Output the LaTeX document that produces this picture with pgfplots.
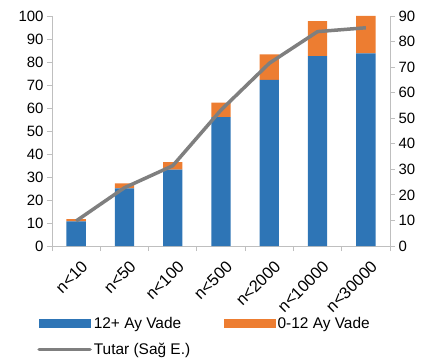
\documentclass[border=0pt]{standalone}
\usepackage{fontspec}
\setmainfont{Liberation Sans}
\usepackage{pgfplots}
\pgfplotsset{compat=1.18}
\definecolor{vadeblue}{HTML}{2E75B6}
\definecolor{vadeorange}{HTML}{ED7D31}
\definecolor{tutargray}{HTML}{7F7F7F}
\definecolor{axisgray}{HTML}{BFBFBF}
\begin{document}
\begin{tikzpicture}
\useasboundingbox (-52bp,-112bp) rectangle (371bp,246bp);
\pgfplotsset{
  common/.style={
    scale only axis, width=338bp, height=230bp,
    at={(0,0)}, anchor=south west,
    xmin=-0.5, xmax=6.5,
    tick align=outside,
    /pgf/number format/assume math mode=true,
    tick label style={font=\fontsize{15}{18}\selectfont, text=black},
    axis line style={draw=axisgray, line width=0.8bp},
    tick style={draw=axisgray, line width=0.8bp},
    major tick length=5bp,
  }
}
% left axis: stacked maturity shares
\begin{axis}[common,
  axis y line*=left, axis x line*=bottom,
  ymin=0, ymax=100, ytick={0,10,...,100},
  xtick={0,...,6},
  xticklabels={n<10,n<50,n<100,n<500,n<2000,n<10000,n<30000},
  major x tick style={draw=none},
  minor xtick={-0.5,0.5,...,6.5},
  minor tick length=5bp,
  minor x tick style={draw=axisgray, line width=0.8bp},
  xticklabel style={rotate=45, anchor=north east, inner sep=1bp, yshift=-8bp, xshift=-2bp,
    font=\fontsize{16.5}{19}\selectfont},
  ybar stacked, bar width=0.4,
]
\addplot[fill=vadeblue, draw=none] coordinates
  {(0,10.7) (1,25.0) (2,33.2) (3,56.0) (4,72.2) (5,82.6) (6,83.8)};
\addplot[fill=vadeorange, draw=none] coordinates
  {(0,1.0) (1,2.2) (2,3.3) (3,6.3) (4,11.1) (5,15.2) (6,16.2)};
\end{axis}
% right axis: amount line and the shared legend
\begin{axis}[common,
  axis y line*=right, axis x line=none,
  ymin=0, ymax=90, ytick={0,10,...,90},
  legend columns=2,
  legend style={at={(-0.044,-0.30)}, anchor=north west, draw=none, fill=none,
    inner sep=0pt, font=\fontsize{15.5}{18}\selectfont,
    /tikz/every even column/.append style={column sep=32bp},
    row sep=9bp},
  legend cell align=left,
]
\addlegendimage{legend image code/.code={\fill[vadeblue] (0bp,-4bp) rectangle (51bp,4bp);}}
\addlegendentry{12+ Ay Vade}
\addlegendimage{legend image code/.code={\fill[vadeorange] (0bp,-4bp) rectangle (51bp,4bp);}}
\addlegendentry{0-12 Ay Vade}
\addplot[tutargray, line width=3.5bp, line join=round,
  legend image code/.code={\draw[tutargray, line width=3.5bp, line cap=round] (0bp,0bp) -- (51bp,0bp);}]
  coordinates {(0,9.8) (1,22.8) (2,31.4) (3,53.2) (4,71.5) (5,83.9) (6,85.4)};
\addlegendentry{Tutar (Sağ E.)}
\end{axis}
\end{tikzpicture}
\end{document}
